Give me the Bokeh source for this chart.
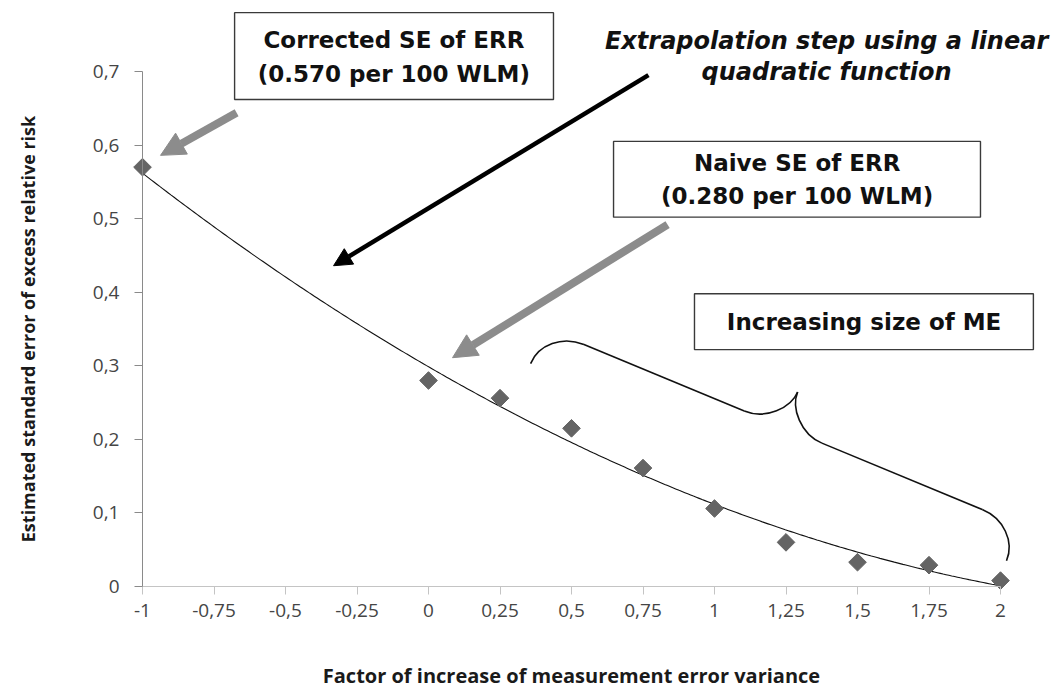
import numpy as np
from bokeh.plotting import figure
from bokeh.models import (Range1d, FixedTicker, CustomJSTickFormatter, Arrow,
                          NormalHead, ColumnDataSource)
from bokeh.core.properties import value
from bokeh.embed import file_html
from bokeh.resources import INLINE

# SIMEX points: factor of increase of measurement error variance vs. SE of ERR
lambda_factor = [-1.0, 0.0, 0.25, 0.5, 0.75, 1.0, 1.25, 1.5, 1.75, 2.0]
se_err = [0.570, 0.280, 0.256, 0.215, 0.161, 0.106, 0.060, 0.033, 0.029, 0.008]

x_ticks = [-1, -0.75, -0.5, -0.25, 0, 0.25, 0.5, 0.75, 1, 1.25, 1.5, 1.75, 2]
y_ticks = [0, 0.1, 0.2, 0.3, 0.4, 0.5, 0.6, 0.7]

W, H = 1055, 690
# screen geometry of the data area (pixels)
X0_PX, PX_PER_X = 142, 286.0
Y0_PX, PX_PER_Y = 586, 735.71

x_lo = -1 - X0_PX / PX_PER_X
x_hi = -1 + (W - X0_PX) / PX_PER_X
y_hi = Y0_PX / PX_PER_Y
y_lo = -(H - Y0_PX) / PX_PER_Y

p = figure(width=W, height=H, output_backend="svg", toolbar_location=None,
           x_range=Range1d(x_lo, x_hi), y_range=Range1d(y_lo, y_hi),
           min_border=0, background_fill_color="white",
           border_fill_color="white")
p.outline_line_color = None
p.xgrid.visible = False
p.ygrid.visible = False

fmt = CustomJSTickFormatter(code="return String(tick).replace('.', ',');")

xa = p.xaxis[0]
xa.fixed_location = 0
xa.bounds = (-1, 2)
xa.ticker = FixedTicker(ticks=x_ticks)
xa.formatter = fmt
xa.axis_line_color = "#c4c4c4"
xa.major_tick_line_color = "#c4c4c4"
xa.major_tick_out = 8
xa.major_tick_in = 0
xa.minor_tick_line_color = None
xa.major_label_text_font = "Open Sans"
xa.major_label_text_font_size = "19px"
xa.major_label_text_color = "#454545"
xa.major_label_standoff = 9
xa.axis_label = "Factor of increase of measurement error variance"
xa.axis_label_text_font = "Open Sans"
xa.axis_label_text_font_style = "bold"
xa.axis_label_text_font_size = "20px"
xa.axis_label_text_color = "#1a1a1a"
xa.axis_label_standoff = 42

ya = p.yaxis[0]
ya.fixed_location = -1
ya.bounds = (0, 0.7)
ya.ticker = FixedTicker(ticks=y_ticks)
ya.formatter = fmt
ya.axis_line_color = "#8a8a8a"
ya.major_tick_line_color = "#8a8a8a"
ya.major_tick_out = 8
ya.major_tick_in = 0
ya.minor_tick_line_color = None
ya.major_label_text_font = "Open Sans"
ya.major_label_text_font_size = "19px"
ya.major_label_text_color = "#454545"
ya.major_label_standoff = 15
ya.axis_label = "Estimated standard error of excess relative risk"
ya.axis_label_text_font = "Open Sans"
ya.axis_label_text_font_style = "bold"
ya.axis_label_text_font_size = "18px"
ya.axis_label_text_color = "#1a1a1a"
ya.axis_label_standoff = 50

# linear-quadratic extrapolation curve fitted on the observed factors (>= 0)
obs_x = np.array(lambda_factor[1:])
obs_y = np.array(se_err[1:])
coef = np.polyfit(obs_x, obs_y, 2)
curve_x = np.linspace(-1, 2, 300)
curve_y = np.polyval(coef, curve_x)
p.line(curve_x, curve_y, line_color="#111111", line_width=1.1)

pts = ColumnDataSource(dict(x=lambda_factor, y=se_err))
p.scatter("x", "y", source=pts, marker="square", angle=np.pi / 4, size=12.5,
          fill_color="#646464", line_color="#646464")

# text boxes
BOX_FONT = value("DejaVu Sans")
boxes = ColumnDataSource(dict(
    left=[-0.678, 0.647, 0.930],
    right=[0.437, 1.930, 2.115],
    top=[0.780, 0.605, 0.398],
    bottom=[0.662, 0.502, 0.322],
))
p.quad(left="left", right="right", top="top", bottom="bottom", source=boxes,
       fill_color="white", line_color="#3a3a3a", line_width=1.4)

box_text = ColumnDataSource(dict(
    x=[-0.121, -0.121, 1.289, 1.289, 1.523],
    y=[0.743, 0.697, 0.575, 0.531, 0.360],
    t=["Corrected SE of ERR", "(0.570 per 100 WLM)", "Naive SE of ERR",
       "(0.280 per 100 WLM)", "Increasing size of ME"],
))
p.text("x", "y", text="t", source=box_text, text_font=BOX_FONT,
       text_font_style="bold", text_font_size="23px", text_color="#111111",
       text_align="center", text_baseline="middle")

note = ColumnDataSource(dict(
    x=[1.392, 1.392], y=[0.741, 0.699],
    t=["Extrapolation step using a linear", "quadratic function"]))
p.text("x", "y", text="t", source=note, text_font=BOX_FONT,
       text_font_style="bold italic", text_font_size="24px",
       text_color="#111111", text_align="center", text_baseline="middle")

# arrows
grey = "#8c8c8c"
p.add_layout(Arrow(x_start=-0.671, y_start=0.644, x_end=-0.937, y_end=0.586,
                   line_color=grey, line_width=8,
                   end=NormalHead(size=24, fill_color=grey, line_color=grey)))
p.add_layout(Arrow(x_start=0.836, y_start=0.492, x_end=0.084, y_end=0.311,
                   line_color=grey, line_width=8,
                   end=NormalHead(size=24, fill_color=grey, line_color=grey)))
p.add_layout(Arrow(x_start=0.769, y_start=0.695, x_end=-0.332, y_end=0.436,
                   line_color="black", line_width=4.5,
                   end=NormalHead(size=18, fill_color="black",
                                  line_color="black")))


# curly brace over the larger measurement-error factors
def brace(x0, y0, x1, y1, depth, radius):
    ax, ay = x0 * PX_PER_X, -y0 * PX_PER_Y
    bx, by = x1 * PX_PER_X, -y1 * PX_PER_Y
    L = np.hypot(bx - ax, by - ay)
    dx, dy = (bx - ax) / L, (by - ay) / L
    nx, ny = dy, -dx
    h, r, k = depth, radius, 0.55
    segs = [
        [(0, 0), (0, k * h / 2), (r - k * r, h / 2), (r, h / 2)],
        [(r, h / 2), (L / 2 - r, h / 2), (L / 2 - r, h / 2), (L / 2 - r, h / 2)],
        [(L / 2 - r, h / 2), (L / 2 - r + k * r, h / 2), (L / 2, h / 2 + k * h / 2), (L / 2, h)],
        [(L / 2, h), (L / 2, h / 2 + k * h / 2), (L / 2 + r - k * r, h / 2), (L / 2 + r, h / 2)],
        [(L / 2 + r, h / 2), (L - r, h / 2), (L - r, h / 2), (L - r, h / 2)],
        [(L - r, h / 2), (L - r + k * r, h / 2), (L, k * h / 2), (L, 0)],
    ]

    def to_data(u, v):
        sx = ax + u * dx + v * nx
        sy = ay + u * dy + v * ny
        return sx / PX_PER_X, -sy / PX_PER_Y

    cols = {k_: [] for k_ in ("x0", "y0", "cx0", "cy0", "cx1", "cy1", "x1", "y1")}
    for s in segs:
        pts_ = [to_data(*q) for q in s]
        cols["x0"].append(pts_[0][0]); cols["y0"].append(pts_[0][1])
        cols["cx0"].append(pts_[1][0]); cols["cy0"].append(pts_[1][1])
        cols["cx1"].append(pts_[2][0]); cols["cy1"].append(pts_[2][1])
        cols["x1"].append(pts_[3][0]); cols["y1"].append(pts_[3][1])
    return ColumnDataSource(cols)


p.bezier(x0="x0", y0="y0", x1="x1", y1="y1", cx0="cx0", cy0="cy0",
         cx1="cx1", cy1="cy1", source=brace(0.357, 0.303, 2.021, 0.035, 76, 42),
         line_color="#111111", line_width=1.6)

open("out.html", "w").write(file_html(p, INLINE))
